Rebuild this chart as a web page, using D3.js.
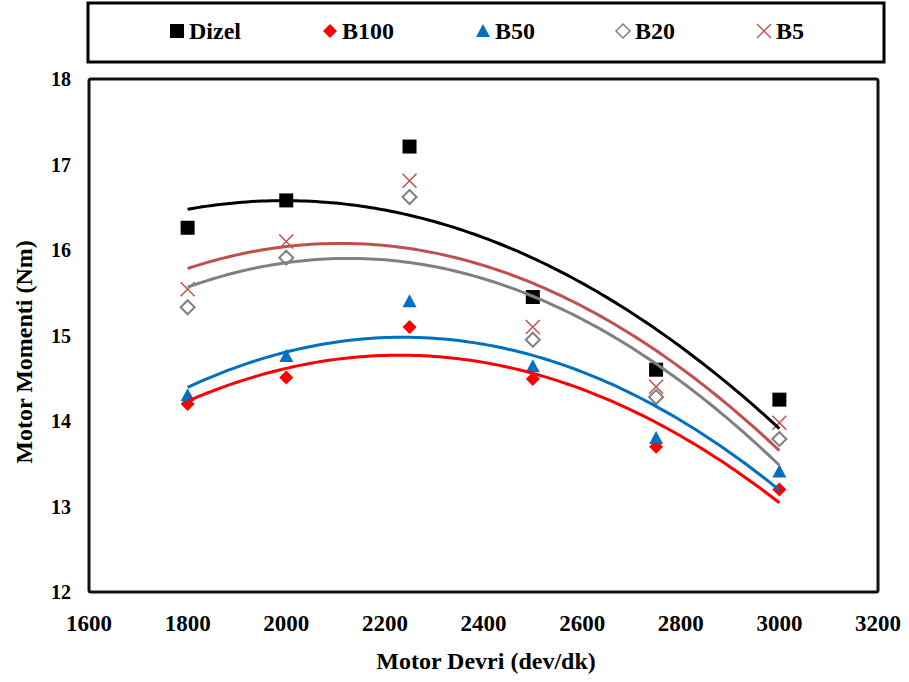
<!DOCTYPE html>
<html lang="tr">
<head>
    <meta charset="UTF-8">
    <title>Motor Momenti</title>
    <script src="https://d3js.org/d3.v7.min.js"></script>
    <style>
        body {
            margin: 0;
            background: #ffffff;
            font-family: "Liberation Serif", "Times New Roman", serif;
        }
        svg text {
            font-weight: bold;
            fill: #000;
        }
    </style>
</head>
<body>
    <svg id="chart" width="909" height="682"></svg>

    <script>
        // data
        const rpm = [1800, 2000, 2250, 2500, 2750, 3000];
        const dizel = [16.26, 16.58, 17.21, 15.45, 14.60, 14.25];
        const b100 = [14.20, 14.51, 15.10, 14.49, 13.70, 13.20];
        const b50 = [14.30, 14.76, 15.40, 14.64, 13.80, 13.41];
        const b20 = [15.33, 15.91, 16.62, 14.95, 14.28, 13.79];
        const b5 = [15.54, 16.10, 16.81, 15.10, 14.40, 13.98];
        const seriesNames = ["Dizel", "B100", "B50", "B20", "B5"];
        const xTicks = [1600, 1800, 2000, 2200, 2400, 2600, 2800, 3000, 3200];
        const yTicks = [12, 13, 14, 15, 16, 17, 18];

        const series = [
            { name: "Dizel", values: dizel, line: "#000000", marker: "square", fill: "#000000", stroke: "none" },
            { name: "B100", values: b100, line: "#ff0000", marker: "diamond", fill: "#ff0000", stroke: "none" },
            { name: "B50", values: b50, line: "#0070c0", marker: "triangle", fill: "#0070c0", stroke: "none" },
            { name: "B20", values: b20, line: "#808080", marker: "diamond", fill: "#ffffff", stroke: "#808080" },
            { name: "B5", values: b5, line: "#c0504d", marker: "cross", fill: "none", stroke: "#c0504d" }
        ];

        const svg = d3.select("#chart");
        const plot = { left: 89, right: 878, top: 79, bottom: 592 };

        const x = d3.scaleLinear().domain([1600, 3200]).range([plot.left, plot.right]);
        const y = d3.scaleLinear().domain([12, 18]).range([plot.bottom, plot.top]);

        // marker shapes
        function markerPath(type) {
            if (type === "square") return "M-7,-7H7V7H-7Z";
            if (type === "diamond") return "M0,-7L7,0L0,7L-7,0Z";
            if (type === "triangle") return "M0,-7L7,6H-7Z";
            return "M-7,-7L7,7M7,-7L-7,7";
        }

        // 2nd order polynomial trendline (least squares, like Excel)
        function polyFit(xs, ys) {
            const xc = xs.map(v => (v - 2400) / 1000);
            let s = [0, 0, 0, 0, 0], t = [0, 0, 0];
            xc.forEach((v, i) => {
                for (let k = 0; k < 5; k++) s[k] += Math.pow(v, k);
                for (let k = 0; k < 3; k++) t[k] += ys[i] * Math.pow(v, k);
            });
            const m = [[s[0], s[1], s[2], t[0]], [s[1], s[2], s[3], t[1]], [s[2], s[3], s[4], t[2]]];
            for (let i = 0; i < 3; i++) {
                for (let j = i + 1; j < 3; j++) {
                    const f = m[j][i] / m[i][i];
                    for (let k = i; k < 4; k++) m[j][k] -= f * m[i][k];
                }
            }
            const c = [0, 0, 0];
            for (let i = 2; i >= 0; i--) {
                let sum = m[i][3];
                for (let k = i + 1; k < 3; k++) sum -= m[i][k] * c[k];
                c[i] = sum / m[i][i];
            }
            return v => {
                const u = (v - 2400) / 1000;
                return c[0] + c[1] * u + c[2] * u * u;
            };
        }

        // legend box
        svg.append("rect")
            .attr("x", 88).attr("y", 3)
            .attr("width", 796).attr("height", 59)
            .attr("fill", "none").attr("stroke", "#000").attr("stroke-width", 3);

        const legendX = [177, 330, 483, 623, 764];
        series.forEach((s, i) => {
            const g = svg.append("g").attr("transform", `translate(${legendX[i]},31)`);
            g.append("path")
                .attr("d", markerPath(s.marker))
                .attr("fill", s.fill)
                .attr("stroke", s.stroke)
                .attr("stroke-width", s.marker === "cross" ? 1.3 : 1.5);
            g.append("text")
                .attr("x", 12).attr("y", 8)
                .style("font-size", "24px")
                .text(seriesNames[i]);
        });

        // tick labels
        svg.append("g").selectAll("text")
            .data(xTicks).join("text")
            .attr("x", d => x(d))
            .attr("y", 631)
            .attr("text-anchor", "middle")
            .style("font-size", "23px")
            .text(d => d);

        svg.append("g").selectAll("text")
            .data(yTicks).join("text")
            .attr("x", 71)
            .attr("y", d => y(d) + 7)
            .attr("text-anchor", "end")
            .style("font-size", "20px")
            .text(d => d);

        // axis titles
        svg.append("text")
            .attr("x", 486).attr("y", 669)
            .attr("text-anchor", "middle")
            .style("font-size", "24px")
            .text("Motor Devri (dev/dk)");

        svg.append("text")
            .attr("transform", "translate(32,352) rotate(-90)")
            .attr("text-anchor", "middle")
            .style("font-size", "24px")
            .text("Motor Momenti (Nm)");

        // markers
        series.forEach(s => {
            svg.append("g").selectAll("path")
                .data(rpm.map((r, i) => [r, s.values[i]]))
                .join("path")
                .attr("transform", d => `translate(${x(d[0])},${y(d[1])})`)
                .attr("d", markerPath(s.marker))
                .attr("fill", s.fill)
                .attr("stroke", s.stroke)
                .attr("stroke-width", s.marker === "cross" ? 1.5 : 2);
        });

        // trendlines
        const line = d3.line().x(d => x(d[0])).y(d => y(d[1]));
        series.forEach(s => {
            const f = polyFit(rpm, s.values);
            const pts = d3.range(1800, 3001, 10).map(v => [v, f(v)]);
            svg.append("path")
                .attr("d", line(pts))
                .attr("fill", "none")
                .attr("stroke", s.line)
                .attr("stroke-width", 3);
        });

        // plot frame
        svg.append("rect")
            .attr("x", plot.left).attr("y", plot.top)
            .attr("width", plot.right - plot.left).attr("height", plot.bottom - plot.top)
            .attr("rx", 2)
            .attr("fill", "none").attr("stroke", "#111").attr("stroke-width", 3);
    </script>
</body>
</html>
